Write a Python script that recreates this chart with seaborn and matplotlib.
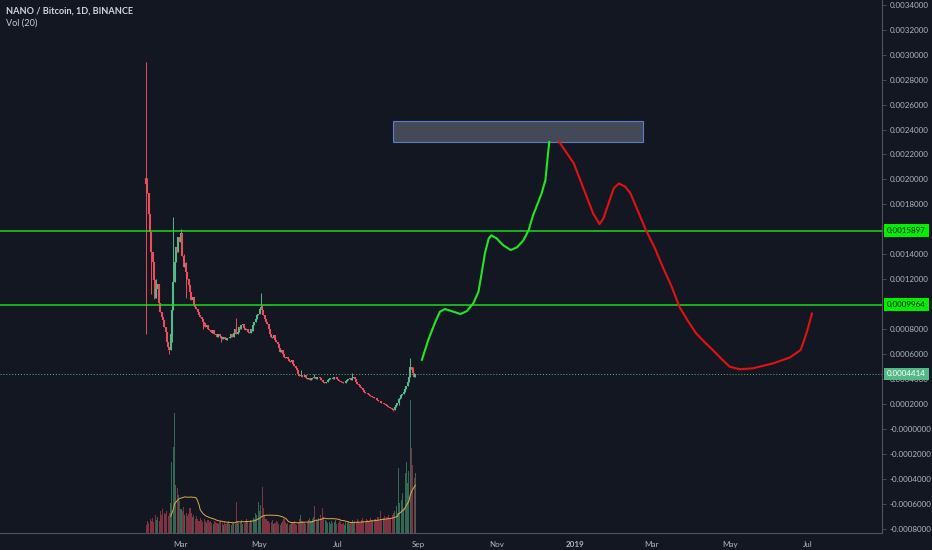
import numpy as np
import pandas as pd
import seaborn as sns
import matplotlib.pyplot as plt
import matplotlib.dates as mdates
from matplotlib.patches import Rectangle
from matplotlib.transforms import blended_transform_factory

BG = "#131722"
UP = "#53b987"
DOWN = "#eb4d5c"
TXT = "#b2b5be"
AXIS = "#50535e"

# NANO/BTC daily candles, closes in uBTC (1e-6 BTC), first candle 2018-02-02
first_date = "2018-02-02"
first_open = 2010
closes = [
    1960, 1890, 1720, 1580, 1420, 1340, 1190, 1050, 1120, 1160,
    1010, 940, 900, 870, 820, 780, 700, 660, 630, 760,
    950, 1180, 1340, 1460, 1420, 1540, 1500, 1570, 1390, 1300,
    1330, 1260, 1200, 1150, 1100, 1030, 1060, 990, 980, 960,
    940, 910, 900, 880, 860, 850, 820, 830, 800, 790,
    780, 770, 790, 760, 750, 740, 760, 745, 730, 720,
    740, 720, 710, 730, 725, 740, 760, 740, 770, 800,
    760, 780, 820, 800, 830, 840, 810, 790, 800, 780,
    770, 800, 785, 830, 860, 880, 910, 920, 960, 980,
    950, 910, 880, 860, 840, 800, 760, 740, 730, 750,
    710, 700, 680, 650, 620, 630, 600, 580, 570, 580,
    560, 545, 540, 550, 520, 505, 490, 470, 440, 425,
    430, 420, 415, 430, 410, 400, 405, 395, 400, 410,
    420, 405, 400, 415, 420, 410, 395, 380, 365, 370,
    380, 395, 400, 405, 410, 400, 415, 420, 400, 390,
    385, 380, 375, 365, 370, 385, 395, 400, 405, 395,
    410, 415, 400, 380, 360, 350, 335, 330, 310, 295,
    290, 285, 280, 270, 265, 255, 260, 250, 245, 235,
    225, 220, 210, 205, 210, 200, 195, 185, 178, 170,
    165, 160, 152, 175, 195, 205, 240, 250, 270, 280,
    300, 320, 345, 380, 420, 500, 470, 450, 420, 441.4,
]
volumes = [
    8, 12, 10, 14, 12, 15, 11, 18, 13, 16,
    12, 22, 18, 24, 20, 19, 22, 17, 20, 30,
    71, 86, 120, 48, 45, 38, 32, 24, 22, 26,
    18, 20, 17, 19, 25, 20, 16, 18, 14, 17,
    14, 12, 15, 13, 11, 14, 12, 10, 13, 11,
    12, 10, 9, 12, 11, 10, 9, 11, 12, 10,
    8, 11, 9, 10, 12, 9, 8, 10, 11, 9,
    31, 12, 10, 11, 13, 9, 10, 12, 14, 11,
    10, 13, 12, 15, 14, 20, 18, 31, 22, 28,
    46, 25, 18, 14, 12, 12, 10, 11, 13, 9,
    10, 12, 11, 9, 8, 10, 12, 14, 11, 9,
    10, 8, 9, 11, 10, 12, 9, 8, 10, 14,
    18, 12, 11, 10, 9, 11, 13, 15, 12, 14,
    16, 27, 13, 12, 15, 18, 14, 25, 16, 13,
    12, 10, 11, 9, 12, 10, 11, 13, 9, 10,
    12, 11, 9, 10, 8, 11, 10, 12, 9, 11,
    13, 10, 12, 11, 14, 12, 10, 13, 15, 12,
    11, 14, 13, 12, 15, 13, 12, 14, 14, 13,
    16, 12, 22, 13, 15, 17, 14, 16, 18, 15,
    15, 18, 20, 22, 27, 20, 65, 30, 33, 40,
    25, 60, 71, 50, 62, 133, 85, 68, 55, 60,
]
wick_highs = {0: 2944, 1: 2010, 5: 1420, 8: 1200, 21: 1700, 22: 1420, 27: 1600,
              29: 1400, 31: 1340, 70: 890, 89: 1090, 90: 1000, 120: 470,
              130: 440, 160: 445, 193: 190, 205: 570, 207: 500}
wick_lows = {0: 760, 4: 1080, 6: 1040, 18: 600, 20: 700, 31: 1050, 44: 800,
             58: 700, 192: 140, 196: 190}

level_lines = [0.0015897, 0.0009964]
last_price = 0.0004414

green_dates = ["2018-09-04", "2018-09-09", "2018-09-14", "2018-09-18", "2018-09-22",
               "2018-09-27", "2018-10-04", "2018-10-09", "2018-10-14", "2018-10-18",
               "2018-10-20", "2018-10-23", "2018-10-26", "2018-10-28", "2018-11-01",
               "2018-11-06", "2018-11-12", "2018-11-17", "2018-11-22", "2018-11-26",
               "2018-11-29", "2018-12-03", "2018-12-06", "2018-12-09", "2018-12-10",
               "2018-12-11", "2018-12-12"]
green_prices = [552, 713, 846, 939, 961, 945, 921, 945, 1007, 1100,
                1220, 1407, 1528, 1552, 1528, 1474, 1434, 1456, 1514, 1594,
                1701, 1808, 1888, 1995, 2102, 2209, 2302]
red_dates = ["2018-12-19", "2018-12-24", "2018-12-31", "2019-01-05", "2019-01-10",
             "2019-01-15", "2019-01-20", "2019-01-23", "2019-01-27", "2019-01-31",
             "2019-02-04", "2019-02-09", "2019-02-13", "2019-02-19", "2019-02-25",
             "2019-03-04", "2019-03-10", "2019-03-17", "2019-03-23", "2019-03-30",
             "2019-04-05", "2019-04-12", "2019-04-18", "2019-04-25", "2019-05-01",
             "2019-05-09", "2019-05-19", "2019-06-04", "2019-06-17", "2019-06-25",
             "2019-06-27", "2019-06-30", "2019-07-04"]
red_prices = [2310, 2235, 2129, 1995, 1861, 1728, 1642, 1688, 1808, 1928,
              1968, 1941, 1888, 1741, 1594, 1448, 1300, 1140, 979, 859,
              766, 691, 632, 558, 499, 478, 486, 526, 574, 632,
              686, 779, 927]

box_dates = ["2018-08-13", "2019-02-23"]
box_prices = [2297, 2470]

price_ticks = [-800, -600, -400, -200, 0, 200, 400, 600, 800, 1200, 1400,
               1800, 2000, 2200, 2400, 2600, 2800, 3000, 3200, 3400]
x_tick_dates = ["2018-03-01", "2018-05-01", "2018-07-01", "2018-09-01", "2018-11-01",
                "2019-01-01", "2019-03-01", "2019-05-01", "2019-07-01"]
x_tick_labels = ["Mar", "May", "Jul", "Sep", "Nov", "2019", "Mar", "May", "Jul"]

sns.set_style("dark")
plt.rcParams["font.family"] = ["Lato", "DejaVu Sans"]

df = pd.DataFrame({"date": pd.date_range(first_date, periods=len(closes), freq="D"),
                   "close": np.array(closes) / 1e6, "volume": volumes})
df["open"] = df["close"].shift(1).fillna(first_open / 1e6)
df["high"] = df[["open", "close"]].max(axis=1)
df["low"] = df[["open", "close"]].min(axis=1)
for i, v in wick_highs.items():
    df.loc[i, "high"] = v / 1e6
for i, v in wick_lows.items():
    df.loc[i, "low"] = v / 1e6
df["color"] = np.where(df["close"] >= df["open"], UP, DOWN)
df["vol_ma"] = df["volume"].rolling(20).mean()

fig = plt.figure(figsize=(9.32, 5.5), dpi=100, facecolor=BG)
ax = fig.add_axes([0, 17 / 550, 882 / 932, 533 / 550])
axv = ax.twinx()
ax.set_zorder(axv.get_zorder() + 1)
ax.patch.set_visible(False)
fig.patch.set_facecolor(BG)

# volume pane
axv.bar(df["date"], df["volume"], width=0.85, color=df["color"], alpha=0.5, linewidth=0)
sns.lineplot(data=df, x="date", y="vol_ma", ax=axv, color="#e3a84a", lw=0.7)
axv.set_ylim(0, 533)
axv.set_yticks([])
axv.set_ylabel("")
for s in axv.spines.values():
    s.set_visible(False)

# candles
ax.vlines(df["date"], df["low"], df["high"], colors=df["color"], lw=0.7)
ax.vlines(df["date"], df["open"], df["close"], colors=df["color"], lw=1.5)

# levels
for lv in level_lines:
    ax.axhline(lv, color="#1fd81f", lw=1.1, zorder=3)
ax.axhline(last_price, color=UP, lw=0.7, ls=(0, (1, 2)), zorder=3)

# target box
b0, b1 = mdates.date2num(pd.to_datetime(box_dates))
ax.add_patch(Rectangle((b0, box_prices[0] / 1e6), b1 - b0, (box_prices[1] - box_prices[0]) / 1e6,
                       facecolor=(0.29, 0.31, 0.37, 0.9), edgecolor="#5a7ec4", lw=0.8, zorder=4))

# forecast paths
fg = pd.DataFrame({"date": pd.to_datetime(green_dates), "price": np.array(green_prices) / 1e6})
fr = pd.DataFrame({"date": pd.to_datetime(red_dates), "price": np.array(red_prices) / 1e6})
sns.lineplot(data=fg, x="date", y="price", ax=ax, color="#22e622", lw=1.5, sort=False, zorder=5)
sns.lineplot(data=fr, x="date", y="price", ax=ax, color="#e01212", lw=1.5, sort=False, zorder=5)

mar1 = mdates.date2num(pd.Timestamp("2018-03-01"))
ax.set_xlim(mar1 - 140.5, mar1 + 544.3)
ax.set_ylim(-0.000834, 0.003438)

ax.yaxis.tick_right()
ax.set_yticks(np.array(price_ticks) / 1e6)
ax.set_yticklabels(["-0.0000000" if t == 0 else f"{t / 1e6:.7f}" for t in price_ticks])
ax.set_xticks(mdates.date2num(pd.to_datetime(x_tick_dates)))
ax.set_xticklabels(x_tick_labels)
for lab in ax.get_xticklabels():
    if lab.get_text() == "2019":
        lab.set_fontweight("bold")
ax.tick_params(axis="both", colors=AXIS, labelcolor=TXT, labelsize=5.8, length=3, width=0.6, pad=2.5)
ax.set_xlabel("")
ax.set_ylabel("")
ax.grid(False)
for name, s in ax.spines.items():
    s.set_visible(name in ("right", "bottom"))
    s.set_color(AXIS)
    s.set_linewidth(0.8)

trans = blended_transform_factory(ax.transAxes, ax.transData)
for v, fc, tc in [(level_lines[0], "#00f000", "#0b0e16"), (level_lines[1], "#00f000", "#0b0e16"),
                  (last_price, UP, "white")]:
    ax.text(1.0055, v, f"{v:.7f}", transform=trans, ha="left", va="center", fontsize=5.8,
            color=tc, clip_on=False, zorder=10,
            bbox=dict(boxstyle="square,pad=0.35", fc=fc, ec="none"))

fig.text(6 / 932, 1 - 11 / 550, "NANO / Bitcoin, 1D, BINANCE", fontsize=6.6,
         fontweight="bold", color="#d1d4dc", va="center")
fig.text(6 / 932, 1 - 23 / 550, "Vol (20)", fontsize=6.6, color="#c8cbd2", va="center")

fig.savefig("out.png", dpi=100, facecolor=BG)
